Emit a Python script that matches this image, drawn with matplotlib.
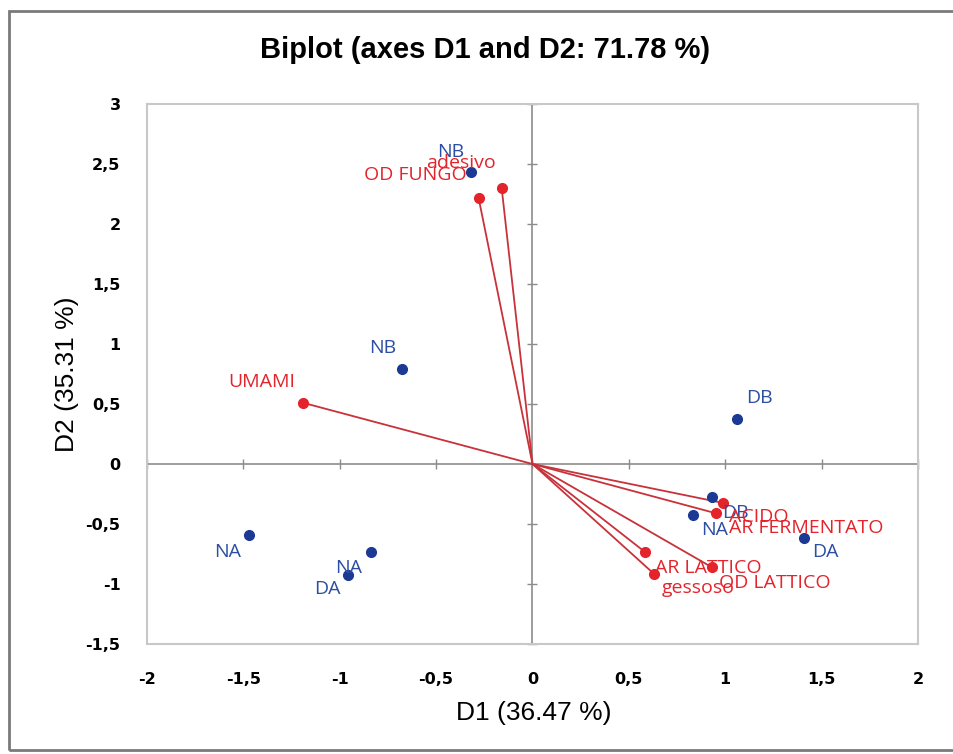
import numpy as np
import matplotlib
matplotlib.use("Agg")
import matplotlib.pyplot as plt
from matplotlib.patches import Rectangle

# observations (blue)
obs_names = ["NB", "NB", "DB", "NA", "NA", "DA", "DB", "NA", "DA"]
obs_d1 = [-0.32, -0.675, 1.06, -1.47, -0.84, -0.955, 0.93, 0.835, 1.41]
obs_d2 = [2.43, 0.79, 0.375, -0.59, -0.73, -0.925, -0.275, -0.425, -0.615]

# variables (red vectors)
var_names = ["OD FUNGO", "adesivo", "UMAMI", "ACIDO", "AR FERMENTATO",
             "AR LATTICO", "OD LATTICO", "gessoso"]
var_d1 = [-0.28, -0.16, -1.19, 0.99, 0.95, 0.585, 0.93, 0.63]
var_d2 = [2.22, 2.30, 0.51, -0.325, -0.41, -0.735, -0.86, -0.915]

ticks_x = [-2, -1.5, -1, -0.5, 0, 0.5, 1, 1.5, 2]
ticks_y = [-1.5, -1, -0.5, 0, 0.5, 1, 1.5, 2, 2.5, 3]

# label offsets in pixels (dx, dy)
obs_off = [(-7, 20), (-6, 21), (9, 21), (-8, -17), (-8, -16), (-8, -14),
           (10, -16), (8, -15), (8, -14)]
var_off = [(-12, 23), (-6, 25), (-8, 21), (6, -14), (13, -15),
           (10, -16), (7, -16), (8, -14)]

blue = "#1c3a94"
blue_txt = "#2c4ea3"
red = "#e4232b"
red_line = "#c8323a"
arial = ["Liberation Sans", "DejaVu Sans"]
lab_font = ["Open Sans", "DejaVu Sans"]


def fmt(v):
    s = ("%g" % v).replace(".", ",")
    return s


fig = plt.figure(figsize=(9.54, 7.54), dpi=100)
fig.patch.set_facecolor("white")
fig.patches.append(Rectangle((9 / 954, 4 / 754), 1.2, 739 / 754,
                             transform=fig.transFigure, fill=False,
                             edgecolor="#7a7a7a", lw=2, clip_on=False))

ax = fig.add_axes([147 / 954, 110 / 754, 771 / 954, 540 / 754])
ax.set_xlim(-2, 2)
ax.set_ylim(-1.5, 3)

ax.axhline(0, color="#8c8c8c", lw=1.2, zorder=1)
ax.axvline(0, color="#8c8c8c", lw=1.2, zorder=1)
# small tick marks on the zero axes
ax.plot(np.zeros(len(ticks_y)), ticks_y, ls="none", marker="_", ms=7,
        mew=1, color="#8c8c8c", zorder=1, clip_on=False)
ax.plot(ticks_x, np.zeros(len(ticks_x)), ls="none", marker="|", ms=7,
        mew=1, color="#8c8c8c", zorder=1, clip_on=False)

for sp in ax.spines.values():
    sp.set_color("#c8c8c8")
    sp.set_linewidth(1.5)

ax.set_xticks(ticks_x)
ax.set_yticks(ticks_y)
ax.set_xticklabels([fmt(t) for t in ticks_x], fontweight="bold", fontsize=11.5)
ax.set_yticklabels([fmt(t) for t in ticks_y], fontweight="bold", fontsize=11.5)
ax.tick_params(axis="x", length=0, pad=20)
ax.tick_params(axis="y", length=0, pad=19)

# variable vectors
for i in range(len(var_names)):
    ax.plot([0, var_d1[i]], [0, var_d2[i]], color=red_line, lw=1.3, zorder=2)
ax.plot(var_d1, var_d2, ls="none", marker="o", ms=7, color=red, zorder=3)

# observations
ax.plot(obs_d1, obs_d2, ls="none", marker="o", ms=7, color=blue, zorder=4)

for i, name in enumerate(obs_names):
    dx, dy = obs_off[i]
    ax.annotate(name, (obs_d1[i], obs_d2[i]), xytext=(dx, dy),
                textcoords="offset pixels", color=blue_txt, fontsize=14,
                family=lab_font, ha="left" if dx > 0 else "right",
                va="center", zorder=5)

for i, name in enumerate(var_names):
    dx, dy = var_off[i]
    ax.annotate(name, (var_d1[i], var_d2[i]), xytext=(dx, dy),
                textcoords="offset pixels", color=red, fontsize=14,
                family=lab_font, ha="left" if dx > 0 else "right",
                va="center", zorder=5)

fig.text(485 / 954, 1 - 50 / 754, "Biplot (axes D1 and D2: 71.78 %)",
         ha="center", va="center", fontsize=21, fontweight="bold",
         family=arial)
fig.text(534 / 954, 1 - 713 / 754, "D1 (36.47 %)", ha="center",
         va="center", fontsize=19, family=arial)
fig.text(67 / 954, 1 - 374 / 754, "D2 (35.31 %)", ha="center",
         va="center", fontsize=19, family=arial, rotation=90)

fig.savefig("out.png", dpi=100)
